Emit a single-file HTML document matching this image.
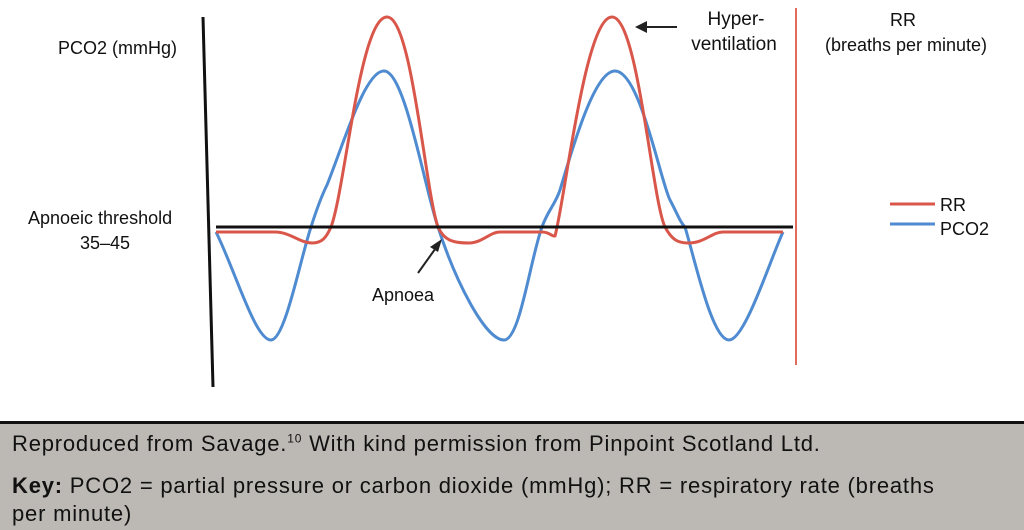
<!DOCTYPE html>
<html><head><meta charset="utf-8"><style>
html,body{margin:0;padding:0;background:#fff;}
body{width:1024px;height:530px;position:relative;overflow:hidden;font-family:"Liberation Sans",sans-serif;}
svg{position:absolute;left:0;top:0;}
.cap{position:absolute;left:0;top:421px;width:1024px;height:109px;background:#bcb9b4;border-top:3px solid #111;box-sizing:border-box;font-family:"Liberation Sans",sans-serif;font-size:22px;letter-spacing:0.8px;color:#111;}
.cap div{position:absolute;left:12px;white-space:nowrap;}
</style></head><body>
<svg width="1024" height="420" viewBox="0 0 1024 420">
<line x1="203" y1="17" x2="213" y2="387" stroke="#111" stroke-width="3"/>
<line x1="796" y1="8" x2="796" y2="365" stroke="#e06b5e" stroke-width="2"/>
<path d="M216,232 C235,270 255,340 271,340 C285,340 300,260 311,227 C318,205 322,195 327,185 C345,140 365,71 384,71 C405,71 425,190 438,227 C455,280 485,340 504,340 C520,340 530,260 542,227 C548,210 555,205 560,190 C575,140 595,71 615,71 C640,71 660,180 670,200 C678,215 680,222 685,227 C695,260 712,340 729,340 C745,340 770,260 783,232" fill="none" stroke="#4f8bd0" stroke-width="3"/>
<path d="M216,232 L275,232 C290,232 300,243 312,243 C322,243 326,238 331,227 C345,190 360,17 387,17 C412,17 425,190 438,227 C444,240 452,243 469,243 C482,243 490,232 500,232 L542,232 C550,232 552,237 555,236 C565,200 585,17 612,17 C638,17 652,200 665,227 C672,240 678,243 688,243 C705,243 712,232 723,232 L783,232" fill="none" stroke="#d9574a" stroke-width="3"/>
<line x1="216" y1="227" x2="793" y2="227" stroke="#111" stroke-width="3"/>
<line x1="418" y1="273" x2="438" y2="245" stroke="#222" stroke-width="2"/>
<polygon points="442,239 430,247 438,252" fill="#222"/>
<line x1="677" y1="27" x2="645" y2="27" stroke="#222" stroke-width="2"/>
<polygon points="635,27 647,21 647,33" fill="#222"/>
<line x1="890" y1="204" x2="935" y2="204" stroke="#d9574a" stroke-width="3"/>
<line x1="890" y1="224" x2="935" y2="224" stroke="#4f8bd0" stroke-width="3"/>
<g font-family="Liberation Sans, sans-serif" font-size="18" fill="#111">
<text x="58" y="54">PCO2 (mmHg)</text>
<text x="28" y="224">Apnoeic threshold</text>
<text x="80" y="249">35–45</text>
<text x="372" y="301">Apnoea</text>
<text x="736" y="25" text-anchor="middle" font-size="19">Hyper-</text>
<text x="734" y="50" text-anchor="middle" font-size="19">ventilation</text>
<text x="903" y="26" text-anchor="middle">RR</text>
<text x="906" y="51" text-anchor="middle">(breaths per minute)</text>
<text x="940" y="211">RR</text>
<text x="940" y="235">PCO2</text>
</g>
</svg>
<div class="cap">
<div style="top:7px">Reproduced from Savage.<sup style="font-size:12px">10</sup> With kind permission from Pinpoint Scotland Ltd.</div>
<div style="top:49px"><b>Key:</b> PCO2 = partial pressure or carbon dioxide (mmHg); RR = respiratory rate (breaths</div>
<div style="top:77px">per minute)</div>
</div>
</body></html>
